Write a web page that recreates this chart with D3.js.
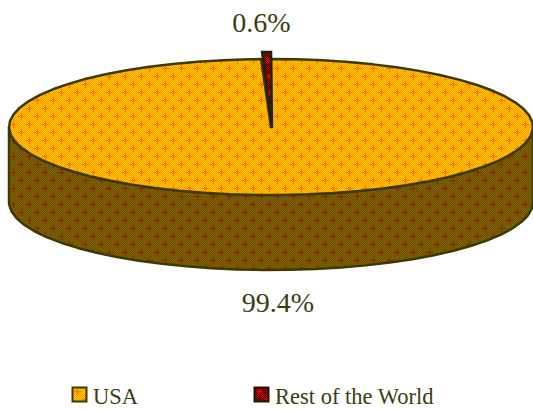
<!DOCTYPE html>
<html>
<head>
<meta charset="utf-8">
<script src="https://d3js.org/d3.v7.min.js"></script>
<style>
html, body { margin: 0; padding: 0; background: #fff; overflow: hidden; }
text { font-family: "Liberation Serif", serif; fill: #3c3c12; }
.label { font-size: 28px; text-anchor: middle; }
.legend-text { font-size: 22.5px; }
</style>
</head>
<body>
<script>
// chart data
var categories = ["USA", "Rest of the World"];
var shares = [99.4, 0.6];
var labels = ["99.4%", "0.6%"];

// colours for each slice: [light, dark, plus mark]
var topColors = [["#ffcc00", "#ff9900", "#ff7a00"], ["#cc0000", "#330000", "#e00000"]];
var sideColors = [["#806600", "#704c00", "#80300a"], ["#800000", "#330000", "#800000"]];

var width = 533, height = 409;
var cx = 271, cy = 127, rx = 262, ry = 68, depth = 75;
var lineColor = "#3a3a04";

var svg = d3.select("body").append("svg")
    .attr("width", width)
    .attr("height", height);

var defs = svg.append("defs");

function addPattern(id, c) {
    var p = defs.append("pattern")
        .attr("id", id)
        .attr("patternUnits", "userSpaceOnUse")
        .attr("width", 16)
        .attr("height", 16)
        .attr("x", 2)
        .attr("y", 1);
    p.append("rect").attr("width", 16).attr("height", 16).attr("fill", c[0]);
    // fine checker
    d3.range(0, 16).forEach(function(i) {
        d3.range(0, 16).forEach(function(j) {
            if ((i + j) % 2 == 0) {
                p.append("rect").attr("x", i).attr("y", j).attr("width", 1).attr("height", 1).attr("fill", c[1]);
            }
        });
    });
    // plus marks, staggered
    [[3, 3], [11, 11]].forEach(function(m) {
        p.append("rect").attr("x", m[0] - 3).attr("y", m[1]).attr("width", 7).attr("height", 1).attr("fill", c[2]);
        p.append("rect").attr("x", m[0]).attr("y", m[1] - 3).attr("width", 1).attr("height", 7).attr("fill", c[2]);
        p.append("rect").attr("x", m[0] - 1).attr("y", m[1] - 1).attr("width", 3).attr("height", 3).attr("fill", c[2]);
    });
}
topColors.forEach(function(c, i) { addPattern("top" + i, c); });
sideColors.forEach(function(c, i) { addPattern("side" + i, c); });

// slices go clockwise from 12 o'clock, USA first
var slices = d3.pie().sort(null)(shares);

var line = d3.line();

// points on the tilted rim between two pie angles
function rimPoints(start, end, sx, sy) {
    return d3.range(start, end, 0.1).concat([end]).map(function(a) {
        return [cx + rx * sx * Math.sin(a), cy - ry * sy * Math.cos(a)];
    });
}

// side wall, the front half of the USA slice
var front = rimPoints(Math.PI / 2, Math.PI * 1.5, 1, 1);
var frontLow = front.map(function(p) { return [p[0], p[1] + depth]; }).reverse();
svg.append("path")
    .attr("d", line(front.concat(frontLow)) + "Z")
    .attr("fill", "url(#side0)")
    .attr("stroke", lineColor)
    .attr("stroke-width", 2.5)
    .attr("stroke-linejoin", "round");

// top face of USA
svg.append("path")
    .attr("d", line(rimPoints(slices[0].startAngle, slices[0].endAngle, 1, 1).concat([[cx, cy]])) + "Z")
    .attr("fill", "url(#top0)")
    .attr("stroke", lineColor)
    .attr("stroke-width", 2.5)
    .attr("stroke-linejoin", "round");

// the small slice sticks out over the rim
var sliver = rimPoints(slices[1].startAngle, slices[1].endAngle, 0.9, 75 / 68);
svg.append("path")
    .attr("d", line(sliver.concat([[cx + 1, cy + 1]])) + "Z")
    .attr("fill", "url(#top1)")
    .attr("stroke", "#22220a")
    .attr("stroke-width", 2.5)
    .attr("stroke-linejoin", "miter");

// data labels
svg.append("text").attr("class", "label").attr("x", 261.5).attr("y", 32).text(labels[1]);
svg.append("text").attr("class", "label").attr("x", 278).attr("y", 312).text(labels[0]);

// legend
var legendX = d3.scaleOrdinal().domain(categories).range([72, 254]);
var legend = svg.append("g").selectAll("g")
    .data(categories)
    .enter().append("g")
    .attr("transform", function(d) { return "translate(" + legendX(d) + ",387)"; });
legend.append("rect")
    .attr("x", 0.5).attr("y", 0.5)
    .attr("width", 14).attr("height", 14)
    .attr("fill", function(d, i) { return "url(#top" + i + ")"; })
    .attr("stroke", function(d, i) { return i == 0 ? lineColor : "#1a1a00"; })
    .attr("stroke-width", 2);
legend.append("text")
    .attr("class", "legend-text")
    .attr("x", 21)
    .attr("y", 17)
    .text(function(d) { return d; });
</script>
</body>
</html>
